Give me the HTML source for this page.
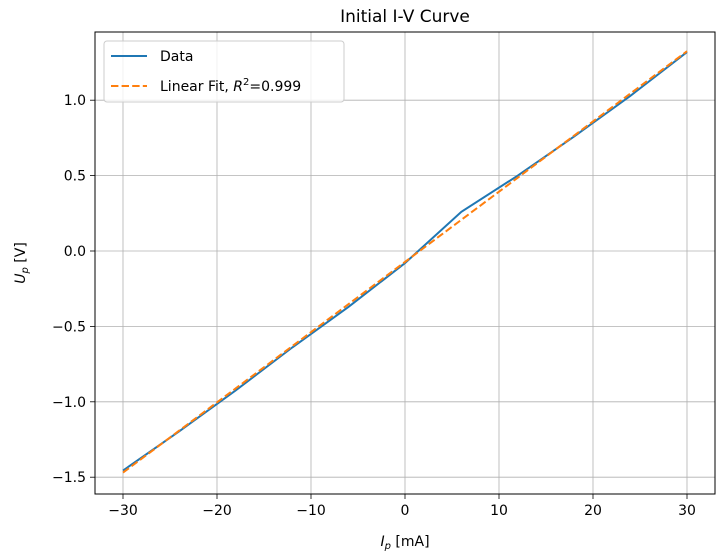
<!DOCTYPE html>
<html><head><meta charset="utf-8"><style>
body{margin:0;background:#fff;}
svg{display:block;font-family:"DejaVu Sans","Liberation Sans",sans-serif;}
</style></head><body>
<svg id="chart" width="726" height="558">
</svg>
<script>
const currents = [-30,-24,-18,-12,-6,0,6,12,18,24,30];
const voltages = [-1.456,-1.195,-0.924,-0.64,-0.37,-0.08,0.26,0.50,0.76,1.03,1.319];
const xTicks = [-30,-20,-10,0,10,20,30];
const yTicks = [-1.5,-1.0,-0.5,0.0,0.5,1.0];
const xTickLabels = ["−30","−20","−10","0","10","20","30"];
const yTickLabels = ["−1.5","−1.0","−0.5","0.0","0.5","1.0"];

const NS="http://www.w3.org/2000/svg";
const svg=document.getElementById('chart');
const L=95,R=715,T=32,B=494;
const xs=v=>123+(v+30)*(564/60);
const ys=v=>251-v*150.8;
function mk(tag,attrs,parent){const e=document.createElementNS(NS,tag);for(const k in attrs)e.setAttribute(k,attrs[k]);(parent||svg).appendChild(e);return e;}

// grid
xTicks.forEach((t,i)=>{
  const g=mk('line',{x1:xs(t),x2:xs(t),y1:T,y2:B,stroke:'#b0b0b0','stroke-width':0.8});
  
  
  mk('line',{x1:xs(t),x2:xs(t),y1:B,y2:B+5,stroke:'#000','stroke-width':0.8});
  const tx=mk('text',{x:xs(t),y:B+21,'text-anchor':'middle','font-size':14});
  tx.textContent=xTickLabels[i];
  
  
});
yTicks.forEach((t,i)=>{
  const g=mk('line',{x1:L,x2:R,y1:ys(t),y2:ys(t),stroke:'#b0b0b0','stroke-width':0.8});
  
  
  mk('line',{x1:L-5,x2:L,y1:ys(t),y2:ys(t),stroke:'#000','stroke-width':0.8});
  const tx=mk('text',{x:L-9,y:ys(t)+5,'text-anchor':'end','font-size':14});
  tx.textContent=yTickLabels[i];
  
  
});

// fit
const n=currents.length;
const mx=currents.reduce((a,b)=>a+b,0)/n, my=voltages.reduce((a,b)=>a+b,0)/n;
let sxy=0,sxx=0;for(let i=0;i<n;i++){sxy+=(currents[i]-mx)*(voltages[i]-my);sxx+=(currents[i]-mx)**2;}
const slope=sxy/sxx, icpt=my-slope*mx;

const data=mk('polyline',{points:currents.map((c,i)=>xs(c)+','+ys(voltages[i])).join(' '),fill:'none',stroke:'#1f77b4','stroke-width':2});


const fit=mk('polyline',{points:currents.map(c=>xs(c)+','+ys(icpt+slope*c)).join(' '),fill:'none',stroke:'#ff7f0e','stroke-width':2,'stroke-dasharray':'7.4,3.2'});



// frame
const fr=mk('rect',{x:L,y:T,width:R-L,height:B-T,fill:'none',stroke:'#000','stroke-width':1});


</script>
<script>
(function(){
const NS="http://www.w3.org/2000/svg";const svg=document.getElementById('chart');
const g=document.createElementNS(NS,'g');svg.appendChild(g);
g.innerHTML=`
<text x="405" y="22" text-anchor="middle" font-size="17">Initial I-V Curve</text>
<text x="405" y="546" text-anchor="middle" font-size="14"><tspan font-style="italic">I</tspan><tspan font-style="italic" font-size="10" dy="3">p</tspan><tspan dy="-3"> [mA]</tspan></text>
<text transform="translate(25,263) rotate(-90)" text-anchor="middle" font-size="14"><tspan font-style="italic">U</tspan><tspan font-style="italic" font-size="10" dy="3">p</tspan><tspan dy="-3"> [V]</tspan></text>
<g>
<rect x="104" y="41" width="240" height="61" rx="3" fill="#fff" fill-opacity="0.8" stroke="#ccc"/>
<line x1="111" x2="147" y1="56" y2="56" stroke="#1f77b4" stroke-width="2"/>
<text x="160" y="61" font-size="14">Data</text>
<line x1="111" x2="147" y1="86" y2="86" stroke="#ff7f0e" stroke-width="2" stroke-dasharray="7.4,3.2"/>
<text x="160" y="91" font-size="14">Linear Fit, <tspan font-style="italic">R</tspan><tspan font-size="10" dy="-6">2</tspan><tspan dy="6">=0.999</tspan></text>
</g>`;
})();
</script>
</body></html>
